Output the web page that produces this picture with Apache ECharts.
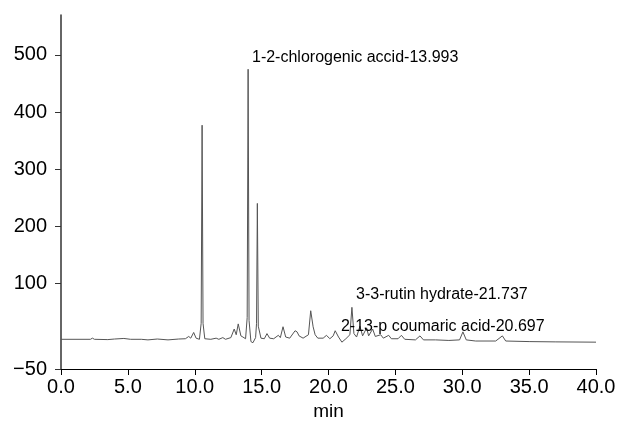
<!DOCTYPE html>
<html>
<head>
<meta charset="utf-8">
<script src="https://cdn.jsdelivr.net/npm/echarts@6/dist/echarts.min.js"></script>
<style>html,body{margin:0;padding:0;background:#fff}#c{width:620px;height:432px}</style>
</head>
<body>
<div id="c"></div>
<script>
// retention time (min) and detector response
const times = [0, 2.2, 2.35, 2.5, 3.5, 4.0, 4.7, 5.2, 6.0, 6.5, 7.2, 8.0, 8.8, 9.3, 9.55, 9.7, 9.92, 10.1, 10.35, 10.48, 10.55, 10.62, 10.75, 11.2, 11.6, 11.8, 12.1, 12.3, 12.7, 12.95, 13.1, 13.25, 13.45, 13.6, 13.8, 13.92, 13.99, 14.06, 14.2, 14.35, 14.55, 14.62, 14.68, 14.75, 14.95, 15.2, 15.4, 15.6, 15.9, 16.25, 16.4, 16.6, 16.8, 17.1, 17.5, 17.65, 17.8, 18.1, 18.5, 18.67, 18.85, 19.0, 19.2, 19.6, 19.85, 20.1, 20.35, 20.5, 20.75, 21.0, 21.1, 21.3, 21.6, 21.75, 21.9, 22.1, 22.35, 22.55, 22.85, 23.0, 23.3, 23.5, 23.9, 24.1, 24.5, 24.7, 25.2, 25.45, 25.7, 26.5, 26.84, 27.1, 28.0, 29.0, 29.8, 30.05, 30.3, 31.0, 32.5, 33.0, 33.25, 35.0, 37.0, 40.0];
const response = [2, 2, 4, 2, 1.5, 2.5, 3.5, 2, 2, 1, 2.5, 1, 2.5, 3, 7, 4, 14, 4, 2, 30, 377, 30, 3, 2, 4, 2, 5, 2, 5, 20, 10, 29, 8, 6, 3, 40, 475, 35, -2, -4, 5, 30, 240, 25, 4, 3, 12, 4, 3, 9, 5, 24, 6, 4, 17, 15, 8, 4, 10, 52, 24, 10, 4, 4, 9, 3, 8, 17, 6, -3, -6, 3, 10, 58, 12, 6, 25, 8, 22, 8, 20, 7, 10, 4, 9, 3, 3, 9, 2, 1, 8, 1, 1, 0, 1, 15, 1, -1, -1, 8, -1, -2, -2.5, -3];
const yTickValues = [-50, 100, 200, 300, 400, 500];
const peakLabels = ['1-2-chlorogenic accid-13.993', '3-3-rutin hydrate-21.737', '2-13-p coumaric acid-20.697'];
const peakLabelAnchors = [[14.28, 496], [22.06, 81], [20.93, 24]];

const chart = echarts.init(document.getElementById('c'), null, {renderer: 'canvas'});
const FONT = "'Liberation Sans', Arial, sans-serif";
const series = times.map((t, i) => [t, response[i]]);
chart.setOption({
  animation: false,
  backgroundColor: '#ffffff',
  grid: {left: 61, right: 24, top: 15, bottom: 63, containLabel: false},
  xAxis: {
    type: 'value', min: 0, max: 40, interval: 5,
    name: 'min', nameLocation: 'middle', nameGap: 32,
    nameTextStyle: {fontFamily: FONT, fontSize: 19, color: '#000'},
    axisLine: {show: true, onZero: false, lineStyle: {color: '#000', width: 1.2}},
    axisTick: {show: true, length: 6, lineStyle: {color: '#000'}},
    axisLabel: {fontFamily: FONT, fontSize: 20, color: '#000', margin: 8, formatter: v => v.toFixed(1)},
    splitLine: {show: false}
  },
  yAxis: {
    type: 'value', min: -50, max: 570, interval: 50,
    axisLine: {show: true, onZero: false, lineStyle: {color: '#333', width: 1.5}},
    axisTick: {show: true, length: 6, customValues: yTickValues, lineStyle: {color: '#333'}},
    axisLabel: {fontFamily: FONT, fontSize: 20, color: '#000', margin: 14, customValues: yTickValues,
      formatter: v => (v < 0 ? '\u2212' + Math.abs(v) : String(v))},
    splitLine: {show: false}
  },
  series: [{
    type: 'line', data: series, showSymbol: false, symbol: 'none',
    lineStyle: {color: '#555', width: 1},
    markPoint: {
      symbol: 'circle', symbolSize: 0,
      label: {show: true, position: 'right', distance: 0, fontFamily: FONT, fontSize: 16, color: '#000'},
      data: peakLabels.map((txt, i) => ({coord: peakLabelAnchors[i], value: txt, label: {formatter: txt}}))
    }
  }]
});
</script>
</body>
</html>
